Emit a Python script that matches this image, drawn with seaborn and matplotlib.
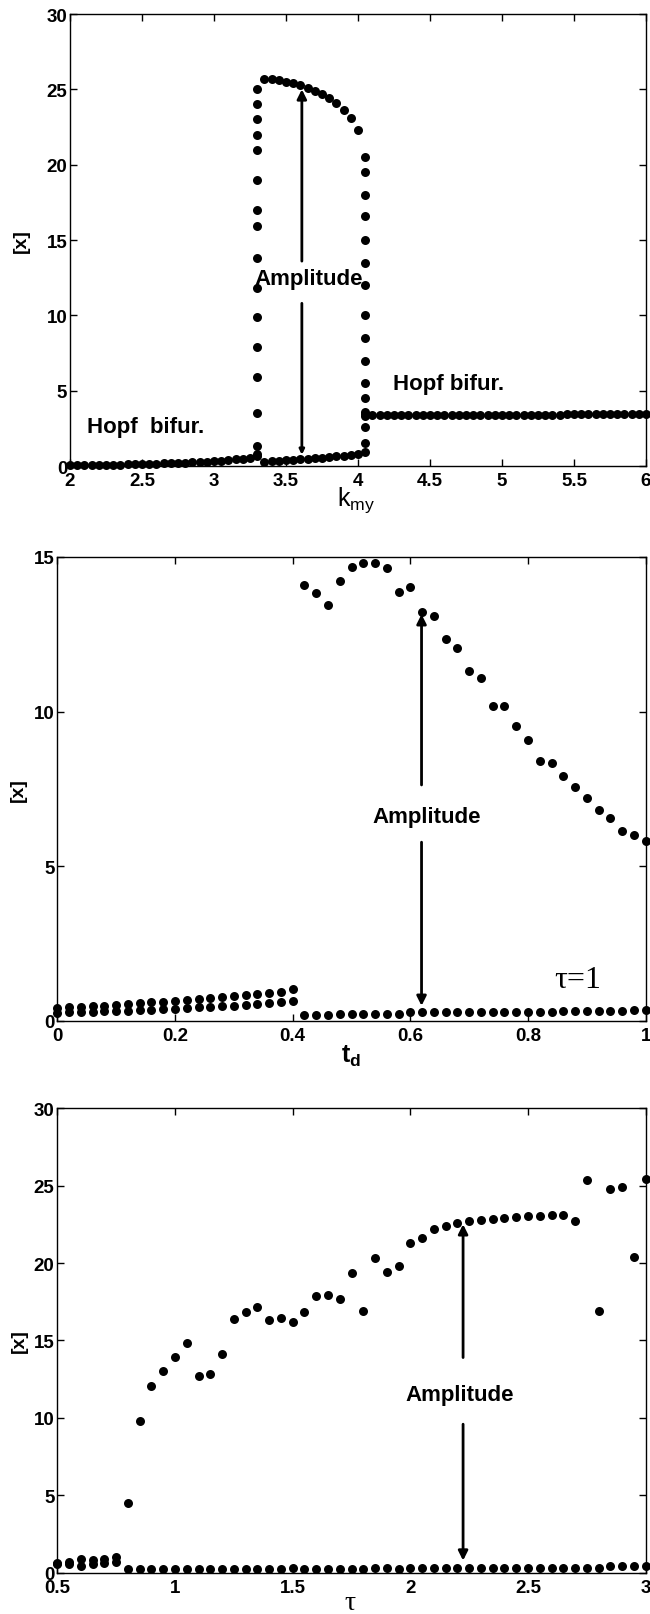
import numpy as np
import pandas as pd
import seaborn as sns
import matplotlib.pyplot as plt

sns.set_style("ticks")
plt.rcParams["font.family"] = ["Liberation Sans", "DejaVu Sans"]
plt.rcParams["mathtext.fontset"] = "custom"
plt.rcParams["mathtext.rm"] = "Liberation Sans"
plt.rcParams["mathtext.it"] = "Liberation Sans:italic"
plt.rcParams["mathtext.bf"] = "Liberation Sans:bold"
plt.rcParams["axes.linewidth"] = 1
plt.rcParams["axes.edgecolor"] = "k"
plt.rcParams["axes.labelcolor"] = "k"
plt.rcParams["text.color"] = "k"
plt.rcParams["xtick.direction"] = "in"
plt.rcParams["ytick.direction"] = "in"
plt.rcParams["xtick.top"] = True
plt.rcParams["ytick.right"] = True
plt.rcParams["xtick.color"] = "k"
plt.rcParams["ytick.color"] = "k"

# ---------------- panel 1 : [x] vs k_my ----------------
k_low1 = np.round(np.arange(2.0, 3.301, 0.05), 2)
x_low1 = [0.05, 0.06, 0.06, 0.07, 0.08, 0.08, 0.09, 0.10, 0.11, 0.12, 0.13, 0.14, 0.15, 0.17,
          0.18, 0.20, 0.22, 0.24, 0.27, 0.30, 0.33, 0.36, 0.40, 0.44, 0.50, 0.56, 0.65]
x_col1 = [25.0, 24.0, 23.0, 22.0, 21.0, 19.0, 17.0, 15.9, 13.8, 11.8, 9.9, 7.9, 5.9, 3.5, 1.3, 0.8]
k_mid = np.round(np.arange(3.35, 4.001, 0.05), 2)
x_upper = [25.66, 25.68, 25.6, 25.5, 25.4, 25.3, 25.1, 24.9, 24.7, 24.4, 24.1, 23.65, 23.1, 22.3]
x_lower = [0.30, 0.32, 0.35, 0.38, 0.41, 0.44, 0.48, 0.52, 0.56, 0.60, 0.65, 0.70, 0.76, 0.83]
x_col2 = [20.5, 19.5, 18.0, 16.6, 15.0, 13.5, 12.0, 10.0, 8.5, 7.0, 5.5, 4.5, 3.6, 3.3, 2.6, 1.5, 0.95]
k_right = np.round(np.arange(4.05, 6.001, 0.05), 2)
x_right = [3.45, 3.40, 3.38, 3.38, 3.38, 3.39, 3.39, 3.39, 3.39, 3.40, 3.40, 3.40, 3.40, 3.40,
           3.40, 3.41, 3.41, 3.41, 3.41, 3.41, 3.41, 3.42, 3.42, 3.42, 3.42, 3.42, 3.42, 3.42,
           3.43, 3.43, 3.43, 3.43, 3.43, 3.43, 3.44, 3.44, 3.44, 3.44, 3.44, 3.44]

# ---------------- panel 2 : [x] vs t_d ----------------
td_a = np.round(np.arange(0.0, 0.401, 0.02), 2)
xa_hi = [0.42, 0.44, 0.46, 0.48, 0.50, 0.52, 0.55, 0.57, 0.60, 0.62, 0.65, 0.68, 0.71, 0.74,
         0.77, 0.80, 0.83, 0.87, 0.91, 0.95, 1.03]
xa_lo = [0.27, 0.28, 0.29, 0.30, 0.31, 0.32, 0.33, 0.35, 0.36, 0.38, 0.40, 0.42, 0.44, 0.46,
         0.48, 0.50, 0.53, 0.55, 0.58, 0.61, 0.66]
td_b = np.round(np.arange(0.42, 1.001, 0.02), 2)
xb_up = [14.10, 13.83, 13.45, 14.21, 14.67, 14.80, 14.80, 14.65, 13.88, 14.02, 13.21, 13.10,
         12.35, 12.06, 11.33, 11.09, 10.19, 10.19, 9.55, 9.08, 8.42, 8.34, 7.93, 7.55, 7.20,
         6.83, 6.55, 6.13, 6.02, 5.81]
xb_lo = [0.20, 0.20, 0.20, 0.21, 0.21, 0.22, 0.22, 0.23, 0.24, 0.28, 0.30, 0.30, 0.29, 0.28,
         0.28, 0.28, 0.28, 0.29, 0.29, 0.29, 0.30, 0.30, 0.31, 0.31, 0.32, 0.32, 0.33, 0.33,
         0.34, 0.35]

# ---------------- panel 3 : [x] vs tau ----------------
tau_a = np.round(np.arange(0.5, 0.751, 0.05), 2)
ta_hi = [0.65, 0.70, 0.90, 0.85, 0.90, 1.05]
ta_lo = [0.55, 0.60, 0.47, 0.60, 0.65, 0.70]
tau_b = np.round(np.arange(0.8, 3.001, 0.05), 2)
tb_up = [4.51, 9.78, 12.08, 13.04, 13.95, 14.87, 12.68, 12.87, 14.1, 16.38, 16.81, 17.13,
         16.31, 16.48, 16.2, 16.81, 17.84, 17.92, 17.65, 19.36, 16.89, 20.33, 19.39, 19.81,
         21.32, 21.64, 22.18, 22.39, 22.57, 22.68, 22.76, 22.84, 22.89, 22.97, 23.02, 23.06,
         23.10, 23.10, 22.68, 25.36, 16.89, 24.76, 24.93, 20.39, 25.45]
tb_lo = [0.25, 0.25, 0.25, 0.25, 0.27, 0.25, 0.25, 0.26, 0.27, 0.26, 0.26, 0.27, 0.27, 0.27,
         0.30, 0.27, 0.27, 0.26, 0.26, 0.27, 0.27, 0.29, 0.29, 0.26, 0.32, 0.32, 0.30, 0.30,
         0.30, 0.30, 0.30, 0.30, 0.30, 0.30, 0.30, 0.30, 0.30, 0.32, 0.30, 0.30, 0.30, 0.45,
         0.48, 0.42, 0.45]

df1 = pd.DataFrame({
    "k": np.concatenate([k_low1, [3.3] * len(x_col1), k_mid, k_mid, [4.05] * len(x_col2), k_right]),
    "x": np.concatenate([x_low1, x_col1, x_upper, x_lower, x_col2, x_right]),
})
df2 = pd.DataFrame({
    "td": np.concatenate([td_a, td_a, td_b, td_b]),
    "x": np.concatenate([xa_hi, xa_lo, xb_up, xb_lo]),
})
df3 = pd.DataFrame({
    "tau": np.concatenate([tau_a, tau_a, tau_b, tau_b]),
    "x": np.concatenate([ta_hi, ta_lo, tb_up, tb_lo]),
})

fig = plt.figure(figsize=(6.5, 16.15), dpi=100, facecolor="w")
ax1 = fig.add_axes([0.1077, 0.7108, 0.8862, 0.2799])
ax2 = fig.add_axes([0.0882, 0.3672, 0.9052, 0.2873])
ax3 = fig.add_axes([0.0882, 0.0254, 0.9052, 0.2879])

dot = dict(color="k", s=42, linewidth=0, legend=False, clip_on=False, zorder=3)
sns.scatterplot(data=df1, x="k", y="x", ax=ax1, **dot)
sns.scatterplot(data=df2, x="td", y="x", ax=ax2, **dot)
sns.scatterplot(data=df3, x="tau", y="x", ax=ax3, **dot)

ax1.set_xlim(2, 6)
ax1.set_ylim(0, 30)
ax1.set_xticks(np.arange(2, 6.01, 0.5))
ax1.set_xticklabels(["2", "2.5", "3", "3.5", "4", "4.5", "5", "5.5", "6"])
ax1.set_yticks(np.arange(0, 31, 5))

ax2.set_xlim(0, 1)
ax2.set_ylim(0, 15)
ax2.set_xticks(np.arange(0, 1.01, 0.2))
ax2.set_xticklabels(["0", "0.2", "0.4", "0.6", "0.8", "1"])
ax2.set_yticks([0, 5, 10, 15])

ax3.set_xlim(0.5, 3)
ax3.set_ylim(0, 30)
ax3.set_xticks(np.arange(0.5, 3.01, 0.5))
ax3.set_xticklabels(["0.5", "1", "1.5", "2", "2.5", "3"])
ax3.set_yticks(np.arange(0, 31, 5))

for ax in (ax1, ax2, ax3):
    ax.tick_params(which="both", length=5, width=1, labelsize=13.5, pad=4)
    ax.tick_params(axis="y", pad=2)
    for lab in ax.get_xticklabels() + ax.get_yticklabels():
        lab.set_fontweight("bold")
    for sp in ax.spines.values():
        sp.set_visible(True)
    ax.set_ylabel("[x]", fontsize=14, fontweight="bold")
    ax.yaxis.label.set_verticalalignment("center")

ax1.yaxis.set_label_coords(-0.085, 0.5)
ax2.yaxis.set_label_coords(-0.066, 0.5)
ax3.yaxis.set_label_coords(-0.064, 0.5)

ax1.set_xlabel(r"k$_{\mathrm{my}}$", fontsize=18)
ax1.xaxis.set_label_coords(0.497, -0.04)
ax2.set_xlabel(r"$\mathbf{t}_{\mathbf{d}}$", fontsize=18)
ax2.xaxis.set_label_coords(0.5, -0.048)
ax3.set_xlabel("τ", fontsize=20, family=["Liberation Serif", "DejaVu Serif"])
ax3.xaxis.set_label_coords(0.497, -0.036)

arrow = dict(arrowstyle="-|>", color="k", lw=2, mutation_scale=14, shrinkA=0, shrinkB=0)
small_arrow = dict(arrowstyle="-|>", color="k", lw=2, mutation_scale=7, shrinkA=0, shrinkB=0)
txt = dict(fontsize=16, fontweight="bold", ha="center", va="baseline", zorder=4)

# panel 1 annotations
ax1.annotate("", xy=(3.61, 25.0), xytext=(3.61, 13.6), arrowprops=arrow)
ax1.annotate("", xy=(3.61, 0.75), xytext=(3.61, 10.8), arrowprops=small_arrow)
ax1.text(3.66, 12.07, "Amplitude", **txt)
ax1.text(2.12, 2.24, "Hopf  bifur.", fontsize=16, fontweight="bold", ha="left", va="baseline")
ax1.text(4.24, 5.11, "Hopf bifur.", fontsize=16, fontweight="bold", ha="left", va="baseline")

# panel 2 annotations
ax2.annotate("", xy=(0.619, 13.15), xytext=(0.619, 7.63), arrowprops=arrow)
ax2.annotate("", xy=(0.619, 0.49), xytext=(0.619, 5.78), arrowprops=arrow)
ax2.text(0.628, 6.44, "Amplitude", **txt)
ax2.text(0.845, 1.1, "τ=1", fontsize=23, ha="left", va="baseline",
         family=["Liberation Serif", "DejaVu Serif"])

# panel 3 annotations
ax3.annotate("", xy=(2.224, 22.5), xytext=(2.224, 13.9), arrowprops=arrow)
ax3.annotate("", xy=(2.224, 0.8), xytext=(2.224, 9.6), arrowprops=arrow)
ax3.text(2.21, 11.17, "Amplitude", **txt)

fig.savefig("out.png", dpi=100, facecolor="w")
